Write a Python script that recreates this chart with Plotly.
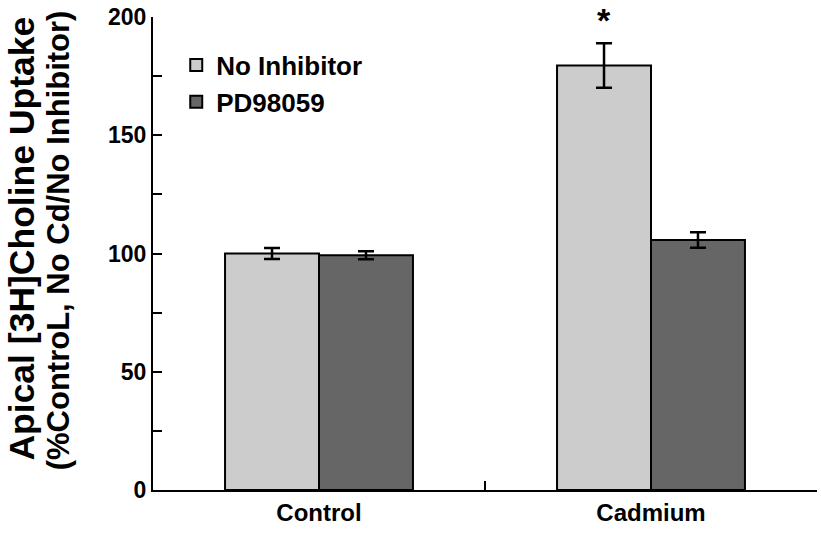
import plotly.graph_objects as go

categories = ["Control", "Cadmium"]
series_names = ["No Inhibitor", "PD98059"]
no_inhibitor = [100.0, 179.5]
no_inhibitor_err = [2.3, 9.4]
pd98059 = [99.3, 105.7]
pd98059_err = [1.7, 3.3]
y_tick_vals = [0, 25, 50, 75, 100, 125, 150, 175, 200]
y_tick_text = ["0", "", "50", "", "100", "", "150", "", "200"]
y_title_lines = ["Apical [3H]Choline Uptake", "(%ControL, No Cd/No Inhibitor)"]
colors = ["#cccccc", "#666666"]

FONT = "Liberation Sans, Arial, sans-serif"

fig = go.Figure()
for name, vals, errs, col in [
    (series_names[0], no_inhibitor, no_inhibitor_err, colors[0]),
    (series_names[1], pd98059, pd98059_err, colors[1]),
]:
    fig.add_trace(go.Bar(
        name=name, x=categories, y=vals,
        marker=dict(color=col, line=dict(color="black", width=2)),
        error_y=dict(type="data", array=errs, visible=True, color="black",
                     thickness=2.5, width=8),
    ))

# significance asterisk above Cadmium / No Inhibitor
fig.add_annotation(x=categories[1], y=no_inhibitor[1] + no_inhibitor_err[1] + 0.8,
                   xref="x", yref="y", text="<b>*</b>", showarrow=False,
                   xshift=-47, yanchor="bottom",
                   font=dict(family=FONT, size=34, color="black"))

# y-axis title (two lines)
fig.add_annotation(x=-0.197, y=0.532, xref="paper", yref="paper",
                   text="<b>" + y_title_lines[0] + "</b>",
                   textangle=-90, showarrow=False, xanchor="center", yanchor="middle",
                   font=dict(family=FONT, size=35.5, color="black"))
fig.add_annotation(x=-0.143, y=0.528, xref="paper", yref="paper",
                   text="<b>" + y_title_lines[1] + "</b>",
                   textangle=-90, showarrow=False, xanchor="center", yanchor="middle",
                   font=dict(family=FONT, size=31, color="black"))

fig.update_layout(
    width=821, height=536,
    margin=dict(l=153, r=4, t=15, b=46),
    paper_bgcolor="white", plot_bgcolor="white",
    barmode="group", bargap=0.434, bargroupgap=0,
    font=dict(family=FONT, color="black"),
    showlegend=True,
    legend=dict(x=0.035, y=0.948, xanchor="left", yanchor="top",
                bgcolor="rgba(0,0,0,0)",
                font=dict(family=FONT, size=26, color="black", weight="bold"),
                tracegroupgap=0),
    xaxis=dict(range=[-0.5, 1.5], showline=True, linecolor="black", linewidth=2,
               ticks="inside", tickson="boundaries", ticklen=9, tickwidth=2,
               tickcolor="black", showgrid=False, zeroline=False,
               tickfont=dict(family=FONT, size=24, color="black", weight="bold")),
    yaxis=dict(range=[0, 200], showline=True, linecolor="black", linewidth=2,
               tickvals=y_tick_vals, ticktext=y_tick_text,
               ticks="inside", ticklen=9, tickwidth=2, tickcolor="black",
               showgrid=False, zeroline=False,
               tickfont=dict(family=FONT, size=23, color="black", weight="bold")),
)

fig.write_html("out.html", config={"displayModeBar": False},
               post_script="document.body.style.margin='0';document.body.style.overflow='hidden';")
